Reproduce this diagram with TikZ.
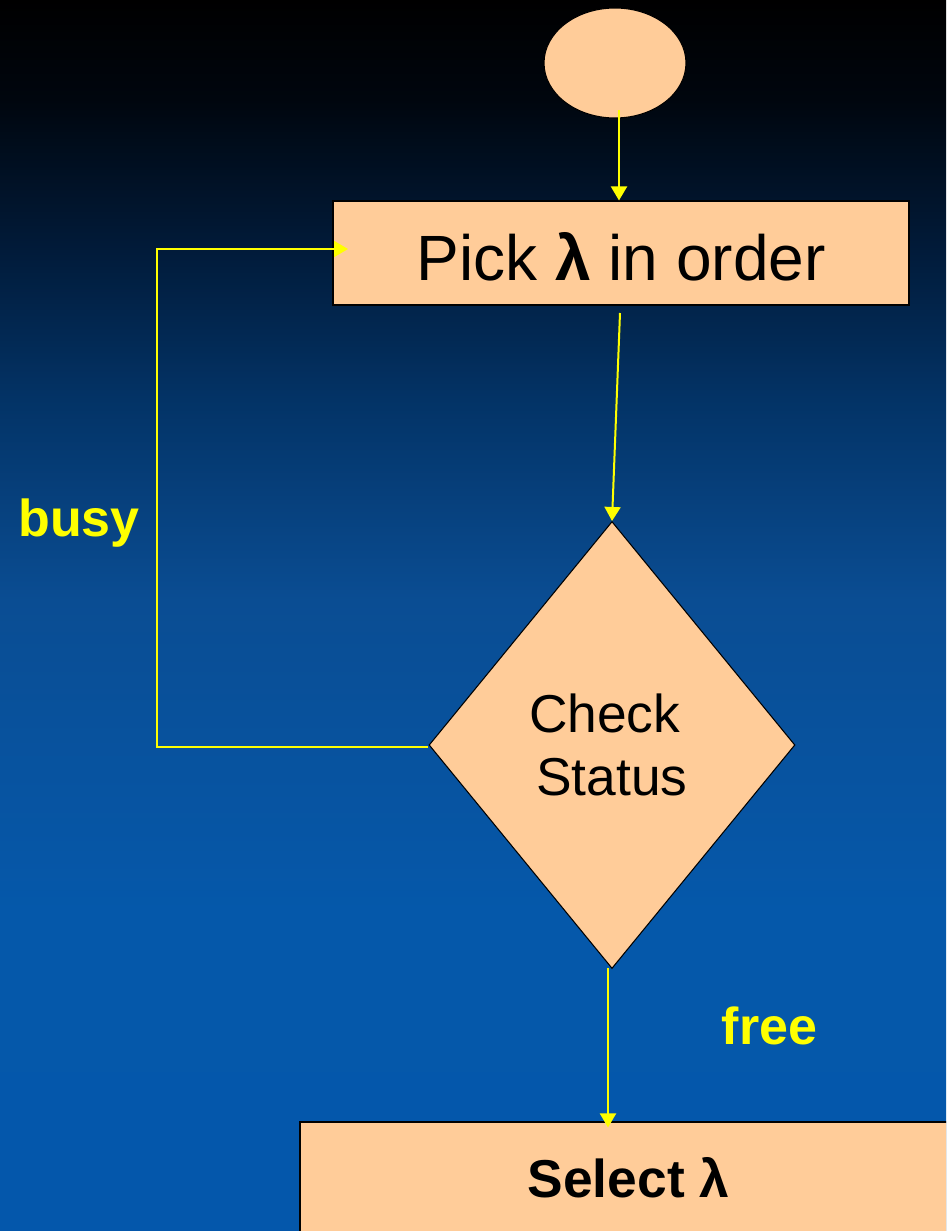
\documentclass[tikz,border=0pt]{standalone}
\usepackage{fontspec}
\setmainfont{Liberation Sans}
\usetikzlibrary{shapes.geometric,arrows.meta}

\definecolor{peach}{HTML}{FFCC99}
\definecolor{flowyellow}{HTML}{FFFF00}
\definecolor{bgB}{HTML}{0457AB}
\definecolor{bgB2}{HTML}{0558AA}
\definecolor{bgM}{HTML}{0A4D93}
\definecolor{bgN}{HTML}{033366}
\definecolor{bgD}{HTML}{011B3A}
\definecolor{bgK}{HTML}{00060E}

% night-to-blue backdrop, bottom (0bp) to top (100bp)
\pgfdeclareverticalshading{skyfall}{100bp}{%
  color(0bp)=(bgB); color(25bp)=(bgB); color(38bp)=(bgB2);
  color(50.6bp)=(bgM); color(58.8bp)=(bgN); color(64.8bp)=(bgD);
  color(71bp)=(bgK); color(75bp)=(black); color(100bp)=(black)}

\begin{document}
\begin{tikzpicture}[x=0.75pt,y=-0.75pt,
  shapebase/.style={fill=peach,draw=black,line width=0.8pt,inner sep=0pt},
  term/.style={shapebase,ellipse,minimum width=106.5pt,minimum height=82.5pt},
  procbox/.style={shapebase,rectangle,text depth=0pt},
  decision/.style={shapebase,diamond,minimum width=274.5pt,minimum height=335.25pt,
    align=center,font=\fontsize{40}{47}\selectfont},
  flow/.style={draw=flowyellow,line width=1.5pt,
    -{Triangle[length=10.5pt,width=12pt]}},
  lbl/.style={text=flowyellow,font=\fontsize{39}{47}\selectfont\bfseries,anchor=base}]

  \useasboundingbox (0,0) rectangle (946,1231);
  \clip (0,0) rectangle (946,1231);
  \shade[shading=skyfall] (0,0) rectangle (946,1231);

  % flowchart blocks
  \node[term] (start) at (615,63) {};
  \node[procbox,minimum width=432pt,minimum height=78pt,text height=40.5pt,
        font=\fontsize{48}{58}\selectfont] (pick) at (621,253) {Pick \textbf{λ} in order};
  \node[decision] (chk) at (612,745) {Check\rule{0.278em}{0pt}\\Status};
  \node[procbox,minimum width=492.75pt,minimum height=88.5pt,text height=24pt,
        font=\fontsize{40}{48}\selectfont\bfseries] (sel) at (628.5,1181) {Select λ};

  % branch labels
  \node[lbl] (busy) at (79,536) {busy};
  \node[lbl] (free) at (769.5,1044) {free};

  % connector anchors
  \coordinate (a1) at (619,110);
  \coordinate (a2) at (620,313);
  \coordinate (a3) at (608,968);
  \coordinate (loopx) at (157,0);
  \coordinate (pickin) at (348,249);

  % connectors
  \draw[flow] (a1) -- (a1 |- pick.north);
  \draw[flow] (a2) -- (chk.north);
  \draw[flow,shorten >=-4.5pt] (a3) -- (a3 |- sel.north);
  \draw[flow] ([yshift=-1.5pt]chk.west) -- ([yshift=-1.5pt]chk.west -| loopx) |- (pickin);
\end{tikzpicture}
\end{document}
